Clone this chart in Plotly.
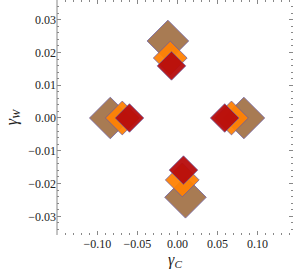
import plotly.graph_objects as go

# Data (gamma_C, gamma_W) for each series, clusters: top, left, right, bottom
brown_x = [-0.012, -0.084, 0.083, 0.010]
brown_y = [0.0235, 0.0, 0.0, -0.0242]
orange_x = [-0.009, -0.069, 0.0675, 0.006]
orange_y = [0.0183, 0.0, 0.0, -0.0189]
red_x = [-0.0075, -0.060, 0.059, 0.0075]
red_y = [0.0159, 0.0, 0.0, -0.0159]

series = [
    (brown_x, brown_y, "#A4744A", 32),
    (orange_x, orange_y, "#FF8205", 26),
    (red_x, red_y, "#B80C0C", 22),
]

fig = go.Figure()
for xs, ys, col, sz in series:
    fig.add_trace(go.Scatter(
        x=xs, y=ys, mode="markers",
        marker=dict(symbol="diamond", size=sz, color=col, opacity=0.95,
                    line=dict(width=0.8, color="#6B5C9E")),
        showlegend=False, hoverinfo="skip"))

font = dict(family="Liberation Serif", size=12, color="#222")
tickcol = "#888888"

fig.update_layout(
    width=295, height=276,
    margin=dict(l=57, r=2, t=0, b=41, autoexpand=False),
    paper_bgcolor="white", plot_bgcolor="white",
    font=font,
    xaxis=dict(range=[-0.1506, 0.1444], tickvals=[-0.10, -0.05, 0.0, 0.05, 0.10],
               ticktext=["\u22120.10", "\u22120.05", "0.00", "0.05", "0.10"],
               ticks="inside", ticklen=4, tickcolor=tickcol, tickwidth=1,
               minor=dict(dtick=0.01, tick0=0, ticks="inside", ticklen=2, tickcolor=tickcol),
               showline=False, mirror="ticks", showgrid=False, zeroline=False,
               automargin=False, tickfont=font,
               title=dict(text="<i>γ</i><sub><i>C</i></sub>",
                          font=dict(family="Liberation Serif", size=16, color="#222"), standoff=3)),
    yaxis=dict(range=[-0.0357, 0.036], tickvals=[-0.03, -0.02, -0.01, 0.0, 0.01, 0.02, 0.03],
               ticktext=["\u22120.03", "\u22120.02", "\u22120.01", "0.00", "0.01", "0.02", "0.03"],
               ticks="inside", ticklen=4, tickcolor=tickcol, tickwidth=1,
               minor=dict(dtick=0.002, tick0=0, ticks="inside", ticklen=2, tickcolor=tickcol),
               showline=False, mirror="ticks", showgrid=False, zeroline=False,
               automargin=False, tickfont=font,
               title=dict(text="<i>γ</i><sub><i>W</i></sub>",
                          font=dict(family="Liberation Serif", size=16, color="#222"), standoff=6)),
    shapes=[dict(type="line", xref="paper", yref="paper", x0=0, x1=0, y0=0, y1=1,
                 line=dict(color="#888888", width=1))],
)

fig.write_html("out.html", config={"displayModeBar": False},
               post_script="document.body.style.margin='0';document.body.style.padding='0';")
